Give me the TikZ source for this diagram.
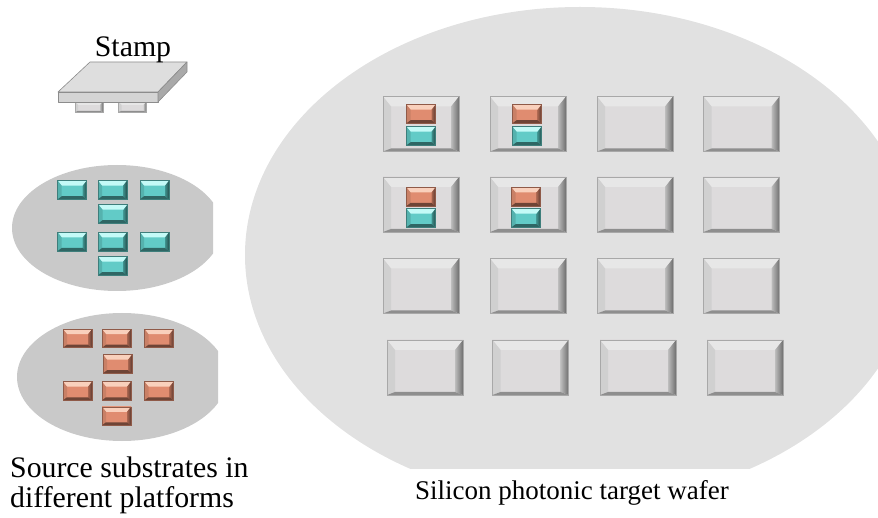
\documentclass[tikz,border=0pt]{standalone}
\usepackage{fontspec}
\setmainfont{Liberation Serif}
\usetikzlibrary{calc}

% grey die palette
\definecolor{dieface}{HTML}{DDDBDC}
\definecolor{diehi}{HTML}{DFDDDE}
\definecolor{dietop}{HTML}{E7E7E7}
\definecolor{dieleft}{HTML}{D0D0D0}
\definecolor{dierin}{HTML}{BDBDBD}
\definecolor{dierout}{HTML}{6E6E6E}
\definecolor{diebot}{HTML}{8E8E8E}
\definecolor{dieedge}{HTML}{A8A8A8}
% III-V chip palette (salmon)
\definecolor{redface}{HTML}{E08C70}
\definecolor{redhi}{HTML}{F6BCA2}
\definecolor{redtop}{HTML}{F9D0BC}
\definecolor{redleft}{HTML}{C98066}
\definecolor{redrin}{HTML}{A8654F}
\definecolor{redrout}{HTML}{5E3A30}
\definecolor{redbot}{HTML}{6E4436}
\definecolor{rededge}{HTML}{8F5A48}
% second platform chip palette (cyan)
\definecolor{cyanface}{HTML}{62CBC7}
\definecolor{cyanhi}{HTML}{A2F0EC}
\definecolor{cyantop}{HTML}{C4FAF7}
\definecolor{cyanleft}{HTML}{55B2AE}
\definecolor{cyanrin}{HTML}{3F918D}
\definecolor{cyanrout}{HTML}{244F4D}
\definecolor{cyanbot}{HTML}{2F6664}
\definecolor{cyanedge}{HTML}{3E7E7B}
% wafers and stamp
\definecolor{wafergray}{HTML}{E1E1E1}
\definecolor{srcgray}{HTML}{C9C9C9}
\definecolor{stamptop}{HTML}{DEDEDE}
\definecolor{stampfront}{HTML}{D4D4D4}
\definecolor{stampside}{HTML}{A9A9A9}
\definecolor{stampedge}{HTML}{8C8C8C}

% bevelled fill: #1 top, #2 left, #3 right, #4 bottom widths, #5 palette prefix
\newcommand\bevelfill[5]{%
  \path (path picture bounding box.south west) coordinate (bvsw)
        (path picture bounding box.north east) coordinate (bvne)
        (path picture bounding box.north west) coordinate (bvnw)
        (path picture bounding box.south east) coordinate (bvse);
  \shade[top color=#5face, middle color=#5hi, bottom color=#5face] (bvsw) rectangle (bvne);
  \fill[#5top] (bvnw) -- (bvne) -- ([shift={(-#3,-#1)}]bvne) -- ([shift={(#2,-#1)}]bvnw) -- cycle;
  \fill[#5left] (bvnw) -- ([shift={(#2,-#1)}]bvnw) -- ([shift={(#2,#4)}]bvsw) -- (bvsw) -- cycle;
  \shade[left color=#5rin, right color=#5rout] (bvne) -- (bvse) -- ([shift={(-#3,#4)}]bvse) -- ([shift={(-#3,-#1)}]bvne) -- cycle;
  \fill[#5bot] (bvsw) -- (bvse) -- ([shift={(-#3,#4)}]bvse) -- ([shift={(#2,#4)}]bvsw) -- cycle;
}

\tikzset{
  die/.style={minimum width=76pt, minimum height=55pt, inner sep=0pt, outer sep=0pt,
    draw=dieedge, line width=0.6pt,
    path picture={\bevelfill{10pt}{8pt}{8pt}{3pt}{die}}},
  foot/.style={minimum width=28pt, minimum height=10pt, inner sep=0pt, outer sep=0pt,
    draw=dieedge, line width=0.5pt,
    path picture={\bevelfill{3pt}{3pt}{3pt}{1pt}{die}}},
  chip/.style={minimum width=29pt, minimum height=18.5pt, inner sep=0pt, outer sep=0pt,
    line width=0.5pt,
    path picture={\bevelfill{5pt}{4pt}{4pt}{3pt}{#1}}, draw=#1edge},
  label/.style={font=\fontsize{27}{30}\selectfont, inner sep=0pt, text=black},
  biglabel/.style={font=\fontsize{29.8}{30}\selectfont, inner sep=0pt, text=black},
}

\begin{document}
\begin{tikzpicture}[x=1pt, y=-1pt]
\useasboundingbox (0,0) rectangle (878,518);

% target wafer with its flat
\begin{scope}
  \clip (0,0) rectangle (878,468);
  \fill[wafergray] (580,255) ellipse [x radius=335pt, y radius=248pt];
\end{scope}

% source substrates, cut straight on the right
\begin{scope}
  \clip (0,0) rectangle (213,300);
  \fill[srcgray] (117,228) ellipse [x radius=105pt, y radius=63pt];
\end{scope}
\begin{scope}
  \clip (0,300) rectangle (218,518);
  \fill[srcgray] (122,377) ellipse [x radius=105pt, y radius=64pt];
\end{scope}

% stamp: feet first, then the block
\node[foot] (foot1) at (89,107) {};
\node[foot] (foot2) at (132.5,107) {};
\coordinate (stA) at (90,62);
\coordinate (stB) at (187,62);
\coordinate (stC) at (158,92);
\coordinate (stD) at (58,92);
\coordinate (stE) at (58,102);
\coordinate (stF) at (158,102);
\coordinate (stG) at (187,72);
\filldraw[fill=stamptop, draw=stampedge, line width=0.6pt, line join=round] (stA) -- (stB) -- (stC) -- (stD) -- cycle;
\filldraw[fill=stampfront, draw=stampedge, line width=0.6pt, line join=round] (stD) -- (stC) -- (stF) -- (stE) -- cycle;
\filldraw[fill=stampside, draw=stampedge, line width=0.6pt, line join=round] (stC) -- (stB) -- (stG) -- (stF) -- cycle;
\node[biglabel, anchor=base] (stamplbl) at (133,56.5) {Stamp};

% chips on the first source substrate
\node[chip=cyan] (c1) at (72.2,190) {};
\node[chip=cyan] (c2) at (112.5,190) {};
\node[chip=cyan] (c3) at (154.5,190) {};
\node[chip=cyan] (c4) at (113,214) {};
\node[chip=cyan] (c5) at (72.2,241.7) {};
\node[chip=cyan] (c6) at (112.5,241.7) {};
\node[chip=cyan] (c7) at (154.5,241.7) {};
\node[chip=cyan] (c8) at (112.5,266) {};

% chips on the second source substrate
\node[chip=red] (r1) at (77.5,338.5) {};
\node[chip=red] (r2) at (116.5,338.5) {};
\node[chip=red] (r3) at (159,338.5) {};
\node[chip=red] (r4) at (117.5,364) {};
\node[chip=red] (r5) at (77.5,391) {};
\node[chip=red] (r6) at (116.5,391) {};
\node[chip=red] (r7) at (159,391) {};
\node[chip=red] (r8) at (116.5,416) {};

% dies on the target wafer
\foreach \r/\y in {1/124,2/204.5,3/286}{
  \foreach \c/\x in {1/421,2/528,3/635,4/741.5}{
    \node[die] (d\r\c) at (\x,\y) {};
  }
}
\foreach \c/\x in {1/425,2/530.5,3/638,4/745}{
  \node[die] (d4\c) at (\x,367.5) {};
}

% transferred chips
\node[chip=red]  (t11r) at (421,114) {};
\node[chip=cyan] (t11c) at (421,136) {};
\node[chip=red]  (t12r) at (527,114) {};
\node[chip=cyan] (t12c) at (527,136) {};
\node[chip=red]  (t21r) at (421,196.7) {};
\node[chip=cyan] (t21c) at (421,218) {};
\node[chip=red]  (t22r) at (526,196.7) {};
\node[chip=cyan] (t22c) at (526,218) {};

% captions
\node[biglabel, anchor=base west] (srclbl1) at (10,477.3) {Source substrates in};
\node[biglabel, anchor=base west] (srclbl2) at (10,507) {different platforms};
\node[label, anchor=base] (tgtlbl) at (572,499) {Silicon photonic target wafer};
\end{tikzpicture}
\end{document}
